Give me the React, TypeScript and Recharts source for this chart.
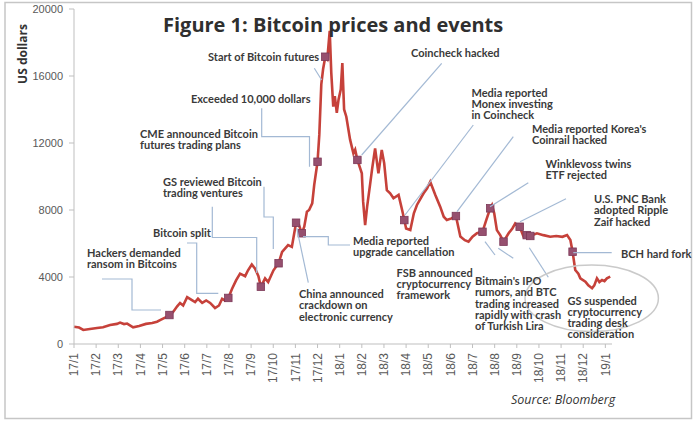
import { LineChart, Line, XAxis, YAxis } from 'recharts';

// month ticks, 0 = Jan 2017
const monthLabels = [
  '17/1', '17/2', '17/3', '17/4', '17/5', '17/6', '17/7', '17/8', '17/9', '17/10', '17/11', '17/12',
  '18/1', '18/2', '18/3', '18/4', '18/5', '18/6', '18/7', '18/8', '18/9', '18/10', '18/11', '18/12',
  '19/1',
];
const yTicks = [0, 4000, 8000, 12000, 16000, 20000];

// [month offset, US dollars]
const prices2017: [number, number][] = [
  [0, 1030], [0.23, 980], [0.42, 840], [0.72, 900], [1.04, 960], [1.31, 1000], [1.63, 1130],
  [1.94, 1200], [2.08, 1280], [2.26, 1190], [2.4, 1220], [2.67, 1000], [2.94, 1080], [3.25, 1200],
  [3.53, 1250], [3.75, 1330], [3.93, 1450], [4.16, 1600], [4.31, 1730], [4.47, 1900], [4.66, 2250],
  [4.79, 2450], [4.93, 2300], [5.11, 2800], [5.29, 2650], [5.47, 2500], [5.6, 2700], [5.79, 2450],
  [5.97, 2600], [6.15, 2450], [6.37, 2150], [6.55, 2300], [6.69, 2700], [6.82, 2600], [6.97, 2750],
  [7.14, 3300], [7.32, 3800], [7.5, 4200], [7.73, 4050], [7.86, 4400], [8.03, 4750], [8.18, 4500],
  [8.33, 4050], [8.44, 3420], [8.63, 3920], [8.77, 3700], [9.01, 4400], [9.24, 4820], [9.4, 5500],
  [9.54, 5710], [9.67, 5900], [9.84, 5800], [10.03, 7240], [10.16, 7100], [10.29, 6610], [10.4, 7000],
  [10.52, 7900], [10.62, 8000], [10.76, 8400], [10.85, 9500], [11.0, 10880], [11.08, 12500],
  [11.17, 15500], [11.25, 16400], [11.35, 17150], [11.44, 17000], [11.55, 18700], [11.62, 16200],
  [11.71, 14170], [11.78, 14800], [11.87, 13800], [11.95, 14600],
];

const prices2018: [number, number][] = [
  [12.05, 15200], [12.12, 16770], [12.2, 14000], [12.3, 13570], [12.47, 12200], [12.62, 11380],
  [12.7, 11600], [12.8, 10990], [13.0, 10190], [13.06, 8500], [13.15, 7100], [13.24, 8200],
  [13.38, 9590], [13.47, 10500], [13.6, 11680], [13.75, 10190], [13.9, 11580], [14.01, 10800],
  [14.13, 9190], [14.28, 9000], [14.43, 8700], [14.66, 8900], [14.82, 8000], [14.92, 7400],
  [15.0, 6900], [15.19, 6810], [15.35, 7800], [15.49, 8300], [15.79, 9000], [15.95, 9300],
  [16.09, 9690], [16.32, 8900], [16.54, 8200], [16.7, 7600], [16.84, 7400], [17.05, 7500],
  [17.25, 7640], [17.45, 6410], [17.65, 6200], [17.82, 6110], [18.0, 6400], [18.2, 6610],
  [18.45, 6700], [18.62, 7400], [18.8, 8100], [18.88, 8300], [18.98, 7800], [19.1, 6800],
  [19.25, 6500], [19.4, 6110], [19.63, 6610], [19.8, 6900], [19.93, 7200], [20.13, 7000],
  [20.31, 6400], [20.45, 6500], [20.61, 6450], [20.91, 6610], [21.2, 6500], [21.51, 6400],
  [21.78, 6450], [22.06, 6400], [22.27, 6500], [22.42, 6210], [22.52, 5510], [22.64, 4420],
  [22.78, 4200], [22.87, 3920], [23.1, 3720], [23.23, 3500], [23.4, 3330], [23.5, 3500],
  [23.62, 3920], [23.73, 3700], [23.85, 3820], [23.96, 3750], [24.07, 3920], [24.22, 4020],
];

// event markers on the price line
const eventPoints: [number, number][] = [
  [4.31, 1730], [6.97, 2750], [8.44, 3420], [9.24, 4820], [10.03, 7240], [10.29, 6610],
  [11.0, 10880], [11.35, 17150], [12.8, 10990], [14.92, 7400], [17.25, 7640], [18.45, 6700],
  [18.8, 8100], [19.4, 6110], [20.13, 7000], [20.45, 6500], [20.61, 6450], [22.52, 5510],
];

const lineData = [...prices2017, ...prices2018].map(([m, usd]) => ({ m, usd }));
const eventData = eventPoints.map(([m, usd]) => ({ m, usd }));

// annotation layout (pixels)
const notes = [
  { x: 87, y: 257, lines: ['Hackers demanded', 'ransom in Bitcoins'] },
  { x: 153, y: 237, lines: ['Bitcoin split'] },
  { x: 163, y: 185.5, lines: ['GS reviewed Bitcoin', 'trading ventures'] },
  { x: 140, y: 138, lines: ['CME announced Bitcoin', 'futures trading plans'] },
  { x: 191, y: 103, lines: ['Exceeded 10,000 dollars'] },
  { x: 208, y: 60.5, lines: ['Start of Bitcoin futures'] },
  { x: 299, y: 298, lines: ['China announced', 'crackdown on', 'electronic currency'] },
  { x: 353, y: 244.5, lines: ['Media reported', 'upgrade cancellation'] },
  { x: 411, y: 57, lines: ['Coincheck hacked'] },
  { x: 471.5, y: 96.5, lines: ['Media reported', 'Monex investing', 'in Coincheck'] },
  { x: 532, y: 133, lines: ["Media reported Korea's", 'Coinrail hacked'] },
  { x: 545.5, y: 168, lines: ['Winklevoss twins', 'ETF rejected'] },
  { x: 594, y: 203, lines: ['U.S. PNC Bank', 'adopted Ripple', 'Zaif hacked'] },
  { x: 621, y: 257.7, lines: ['BCH hard fork'] },
  { x: 396.5, y: 276.5, lines: ['FSB announced', 'cryptocurrency', 'framework'] },
  { x: 475, y: 285, lines: ["Bitmain's IPO", 'rumors, and BTC', 'trading increased', 'rapidly with crash', 'of Turkish Lira'] },
  { x: 567.5, y: 304.5, lines: ['GS suspended', 'cryptocurrency', 'trading desk', 'consideration'] },
];

const leaders = [
  '102,279 132,279 132,310 161,310',
  '187,243 196.7,243 196.7,293.3 218.3,293.3',
  '212.3,206.7 212.3,237.5 256.7,237.5 256.7,273',
  '264,186.7 264,217 273.3,217 273.3,249',
  '261.7,108.3 261.7,136.7 309.5,136.7 309.5,166.7',
  '314.3,68.3 321.7,80',
  '296.7,228 308.3,282.7',
  '303,236.7 328.3,236.7 328.3,245 350,245',
  '441.7,63.3 361.7,155',
  '473.3,125 405,215',
  '513.3,136.7 457,211.7',
  '528.3,182.7 490,206.7',
  '566,198.7 520,221.7',
  '573.3,252.7 611.7,252.7',
  '529.3,247.7 548.3,277.3',
  '495,255 485,241.7',
  '513.3,258.3 498.3,248.3',
];

const tickFont = '"Liberation Sans", Arial, sans-serif';
const titleFont = '"Open Sans", sans-serif';
const noteFont = 'Lato, sans-serif';

const MonthTick = ({ x, y, payload }: any) => (
  <text
    x={x}
    y={y}
    transform={`rotate(-90 ${x} ${y})`}
    textAnchor="end"
    dy="0.35em"
    fontSize={12}
    fill="#595959"
    fontFamily={tickFont}
  >
    {monthLabels[payload.value]}
  </text>
);

const EventSquare = ({ cx, cy }: any) => (
  <rect x={cx - 3.75} y={cy - 3.75} width={7.5} height={7.5} fill="#96506f" stroke="#7c3858" strokeWidth={0.8} />
);

const App = () => {
  return (
    <div
      style={{
        position: 'absolute',
        left: 0,
        top: 0,
        width: 696,
        height: 421,
        background: '#fff',
        fontFamily: noteFont,
      }}
    >
      <LineChart width={696} height={421} margin={{ top: 9, right: 84, bottom: 0, left: 0 }}>
        <XAxis
          type="number"
          dataKey="m"
          domain={[0, 24.3]}
          ticks={monthLabels.map((_, i) => i)}
          interval={0}
          height={77}
          tickSize={4}
          tickMargin={5}
          tick={<MonthTick />}
          axisLine={{ stroke: '#bfbfbf' }}
          tickLine={{ stroke: '#bfbfbf' }}
        />
        <YAxis
          type="number"
          domain={[0, 20000]}
          ticks={yTicks}
          interval={0}
          width={74}
          tickSize={5}
          tickMargin={6}
          tick={{ fontSize: 11, fill: '#595959', fontFamily: tickFont }}
          axisLine={{ stroke: '#bfbfbf' }}
          tickLine={{ stroke: '#bfbfbf' }}
        />
        <Line
          data={lineData}
          dataKey="usd"
          stroke="#c6413a"
          strokeWidth={2.6}
          dot={false}
          isAnimationActive={false}
        />
        <Line
          data={eventData}
          dataKey="usd"
          stroke="none"
          dot={<EventSquare />}
          activeDot={false}
          isAnimationActive={false}
        />
      </LineChart>
      <svg
        width={696}
        height={421}
        style={{ position: 'absolute', left: 0, top: 0, pointerEvents: 'none' }}
      >
        <rect x={5} y={2.5} width={686.5} height={416} fill="none" stroke="#c6c6c6" strokeWidth={1.5} />
        <text x={163} y={32} fontSize={20} fontWeight={700} fill="#2f2f2f" fontFamily={titleFont}>
          Figure 1: Bitcoin prices and events
        </text>
        <text
          x={27}
          y={54}
          transform="rotate(-90 27 54)"
          textAnchor="middle"
          fontSize={12}
          fontWeight={700}
          fill="#333"
          fontFamily={titleFont}
        >
          US dollars
        </text>
        {leaders.map((pts, i) => (
          <polyline key={i} points={pts} fill="none" stroke="#a3b9d4" strokeWidth={1.2} />
        ))}
        <ellipse cx={591.7} cy={298.3} rx={66.7} ry={33.3} fill="none" stroke="#cacaca" strokeWidth={1.5} />
        {notes.map((n, i) => (
          <text key={i} x={n.x} y={n.y} fontSize={11} fontWeight={700} fill="#3a3a3a" fontFamily={noteFont}>
            {n.lines.map((l, j) => (
              <tspan key={j} x={n.x} dy={j === 0 ? 0 : 11.3}>
                {l}
              </tspan>
            ))}
          </text>
        ))}
        <text x={511} y={404} fontSize={12.5} fontStyle="italic" fill="#333" fontFamily={titleFont}>
          Source: Bloomberg
        </text>
      </svg>
    </div>
  );
};

export default App;
